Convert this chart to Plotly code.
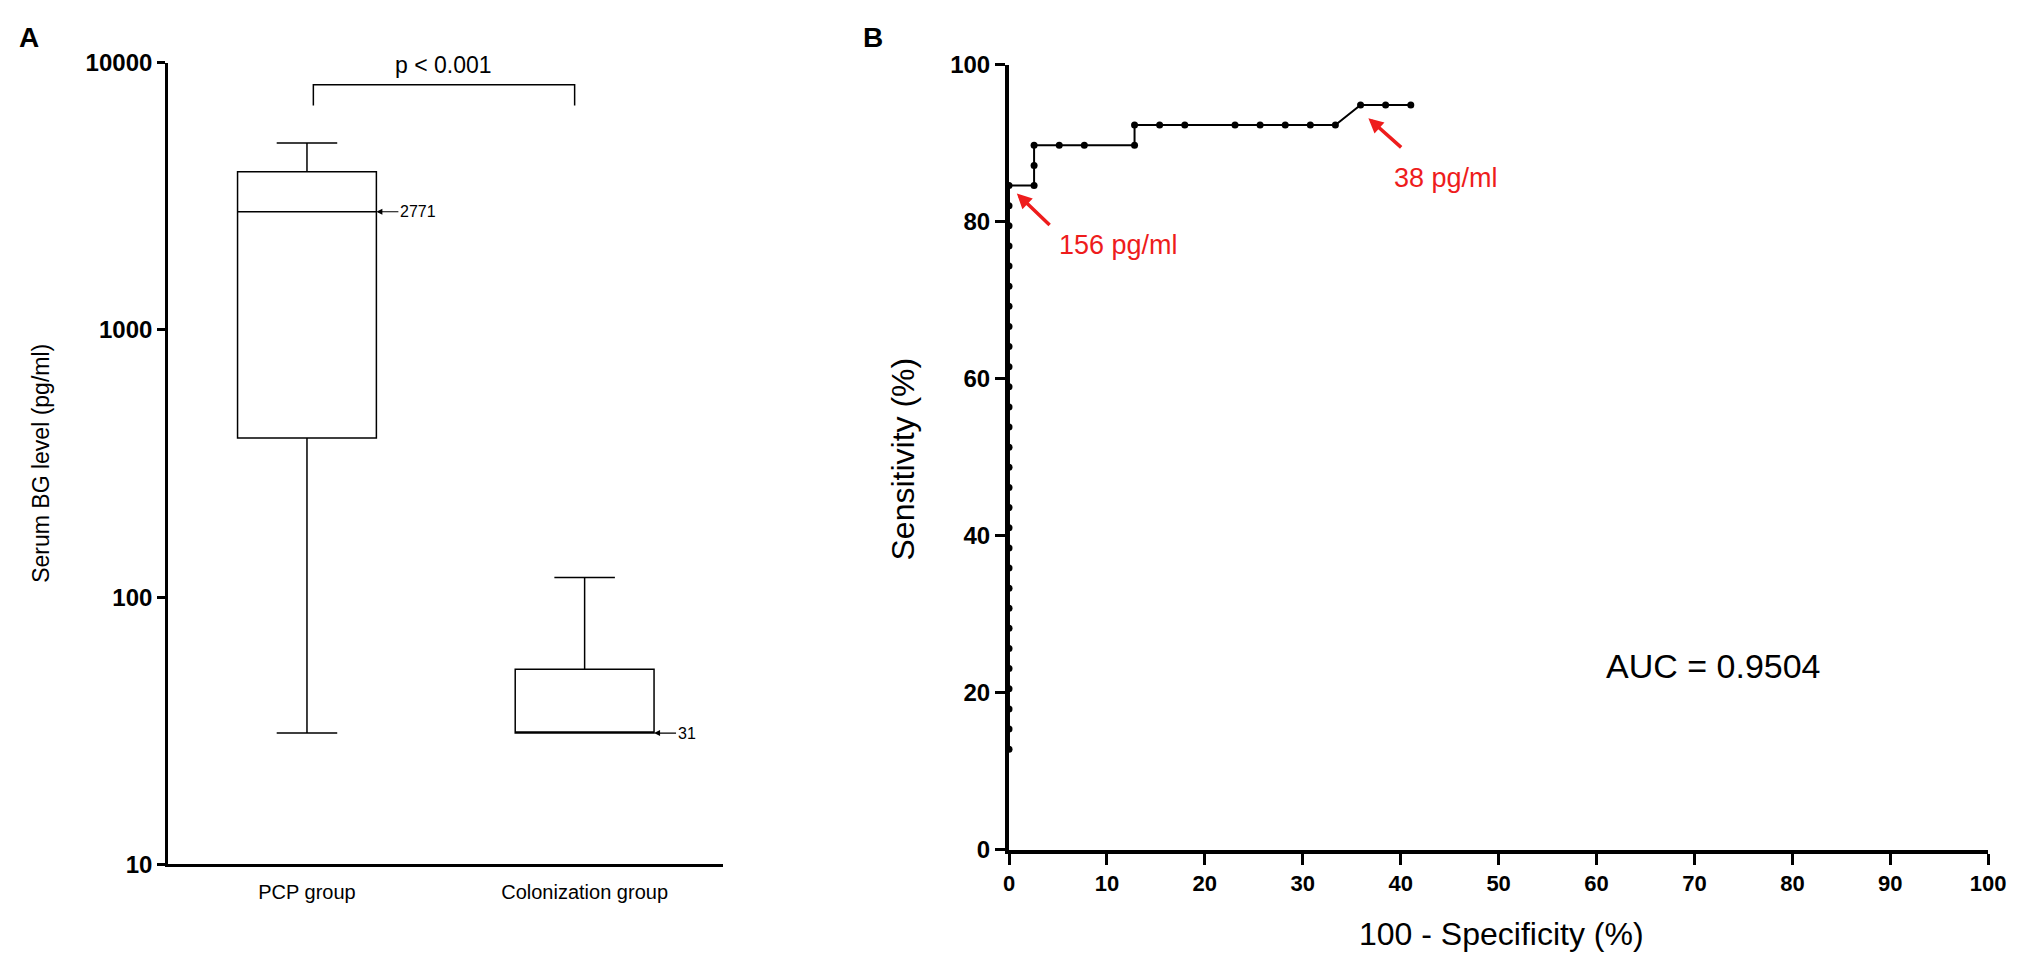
import plotly.graph_objects as go
import math

# reference canvas (page px); the figure sits inside the default 8px body margin
W, H = 2033, 967
PAD = 8
FW, FH = W - 2 * PAD, H - 2 * PAD

# panel A: box summary (pg/ml)
groups = ["PCP group", "Colonization group"]
group_pos = [0, 1]
bg_min = [31, 31]
bg_q1 = [394, 31]
bg_median = [2771, 31]
bg_q3 = [3908, 53.7]
bg_max = [5012, 118.6]
median_labels = ["2771", "31"]
label_levels = [2771, 31]

# p-value bracket
bracket_x = [0.023, 0.023, 0.964, 0.964]
bracket_y = [6918, 8280, 8280, 6918]
p_text = "p < 0.001"

# panel B: ROC points (%)
fpr = [0, 0, 0, 0, 0, 0, 0, 0, 0, 0, 0, 0, 0, 0, 0, 0, 0, 0, 0, 0,
       0, 0, 0, 0, 0, 0, 0, 0, 0,
       2.56, 2.56, 2.56, 5.13, 7.69, 12.82, 12.82, 15.38, 17.95, 23.08,
       25.64, 28.21, 30.77, 33.33, 35.90, 38.46, 41.03]
tpr = [12.82, 15.38, 17.95, 20.51, 23.08, 25.64, 28.21, 30.77, 33.33, 35.90,
       38.46, 41.03, 43.59, 46.15, 48.72, 51.28, 53.85, 56.41, 58.97, 61.54,
       64.10, 66.67, 69.23, 71.79, 74.36, 76.92, 79.49, 82.05, 84.62,
       84.62, 87.18, 89.74, 89.74, 89.74, 89.74, 92.31, 92.31, 92.31, 92.31,
       92.31, 92.31, 92.31, 92.31, 94.87, 94.87, 94.87]
auc_text = "AUC = 0.9504"

# cut-off callouts: (label, head x, head y, tail x, tail y, text x, text y)
cutoffs = [
    ("156 pg/ml", 0.8, 83.6, 4.3, 79.4, 4.9, 77.0),
    ("38 pg/ml", 36.7, 93.2, 40.2, 89.3, 39.1, 85.6),
]

RED = "#ee1c1c"
FONT = "Liberation Sans, Arial, sans-serif"


def px(x):
    return (x - PAD) / FW


def py(y):
    return 1 - (y - PAD) / FH


fig = go.Figure()

for i in range(len(groups)):
    fig.add_trace(go.Box(
        x=[group_pos[i]],
        lowerfence=[bg_min[i]],
        q1=[bg_q1[i]],
        median=[bg_median[i]],
        q3=[bg_q3[i]],
        upperfence=[bg_max[i]],
        width=0.5,
        whiskerwidth=0.436,
        fillcolor="white",
        line=dict(color="black", width=1.5),
        boxpoints=False,
        hoverinfo="skip",
        xaxis="x", yaxis="y",
    ))

fig.add_trace(go.Scatter(
    x=bracket_x, y=bracket_y, mode="lines",
    line=dict(color="black", width=1.5),
    xaxis="x", yaxis="y", hoverinfo="skip",
))

fig.add_trace(go.Scatter(
    x=fpr, y=tpr, mode="lines+markers",
    line=dict(color="black", width=2),
    marker=dict(color="black", size=7),
    cliponaxis=False,
    xaxis="x2", yaxis="y2",
))

annotations = []

# p value
annotations.append(dict(
    x=(bracket_x[0] + bracket_x[-1]) / 2, y=math.log10(9800),
    xref="x", yref="y", text=p_text, showarrow=False,
    xanchor="center", yanchor="middle",
    font=dict(family=FONT, size=23, color="black"),
))

# median labels with little arrows
for i in range(len(groups)):
    annotations.append(dict(
        x=group_pos[i] + 0.25, y=math.log10(label_levels[i]),
        xref="x", yref="y", text=median_labels[i],
        showarrow=True, arrowhead=2, arrowsize=1, arrowwidth=1.2,
        arrowcolor="black", ax=22, ay=0, xanchor="left", yanchor="middle",
        font=dict(family=FONT, size=16, color="black"),
    ))

# red cut-off arrows
for lab, hx, hy, tx, ty, lx, ly in cutoffs:
    annotations.append(dict(
        x=hx, y=hy, ax=tx, ay=ty, xref="x2", yref="y2",
        axref="x2", ayref="y2", text="", showarrow=True,
        arrowhead=2, arrowsize=0.85, arrowwidth=3.5, arrowcolor=RED,
    ))
    annotations.append(dict(
        x=lx, y=ly, xref="x2", yref="y2", text=lab, showarrow=False,
        xanchor="left", yanchor="middle",
        font=dict(family=FONT, size=27, color=RED),
    ))

annotations.append(dict(
    x=71.9, y=23.4, xref="x2", yref="y2", text=auc_text, showarrow=False,
    xanchor="center", yanchor="middle",
    font=dict(family=FONT, size=34, color="black"),
))

# titles and panel letters
annotations += [
    dict(x=px(35), y=py(462), text="Serum BG level (pg/ml)", textangle=-90,
         font=dict(family=FONT, size=23, color="black")),
    dict(x=px(908), y=py(458), text="Sensitivity (%)", textangle=-90,
         font=dict(family=FONT, size=32, color="black")),
    dict(x=px(1513), y=py(947), text="100 - Specificity (%)",
         font=dict(family=FONT, size=32, color="black")),
    dict(x=px(23), y=py(24), text="<b>A</b>",
         font=dict(family=FONT, size=28, color="black")),
    dict(x=px(877), y=py(24), text="<b>B</b>",
         font=dict(family=FONT, size=28, color="black")),
]
for a in annotations[-5:]:
    a.update(xref="paper", yref="paper", showarrow=False,
             xanchor="center", yanchor="middle")

fig.update_layout(
    width=FW, height=FH,
    margin=dict(l=0, r=0, t=0, b=0),
    paper_bgcolor="white", plot_bgcolor="white",
    showlegend=False,
    annotations=annotations,
    xaxis=dict(
        domain=[px(164), px(726)], range=[-0.5, 1.5],
        tickvals=group_pos, ticktext=groups, ticks="",
        ticklabelstandoff=8,
        showline=True, linecolor="black", linewidth=3,
        showgrid=False, zeroline=False, anchor="y",
        tickfont=dict(family=FONT, size=20, color="black"),
    ),
    yaxis=dict(
        domain=[py(875), py(50)], type="log", range=[1, 4],
        tickvals=[10, 100, 1000, 10000],
        ticktext=["10", "100", "1000", "10000"],
        ticks="outside", ticklen=8, tickwidth=2.5, tickcolor="black",
        showline=True, linecolor="black", linewidth=3,
        showgrid=False, zeroline=False, anchor="x",
        tickfont=dict(family=FONT, size=24, color="black", weight="bold"),
    ),
    xaxis2=dict(
        domain=[px(1015), px(2006)], range=[0, 100], dtick=10,
        ticks="outside", ticklen=11, tickwidth=2.5, tickcolor="black",
        showline=True, linecolor="black", linewidth=4,
        showgrid=False, zeroline=False, anchor="y2",
        ticklabeloverflow="allow",
        tickfont=dict(family=FONT, size=22, color="black", weight="bold"),
    ),
    yaxis2=dict(
        domain=[py(860), py(52)], range=[0, 100], dtick=20,
        ticks="outside", ticklen=10, tickwidth=2.5, tickcolor="black",
        showline=True, linecolor="black", linewidth=4,
        showgrid=False, zeroline=False, anchor="x2",
        tickfont=dict(family=FONT, size=24, color="black", weight="bold"),
    ),
)

fig.write_html("out.html")
